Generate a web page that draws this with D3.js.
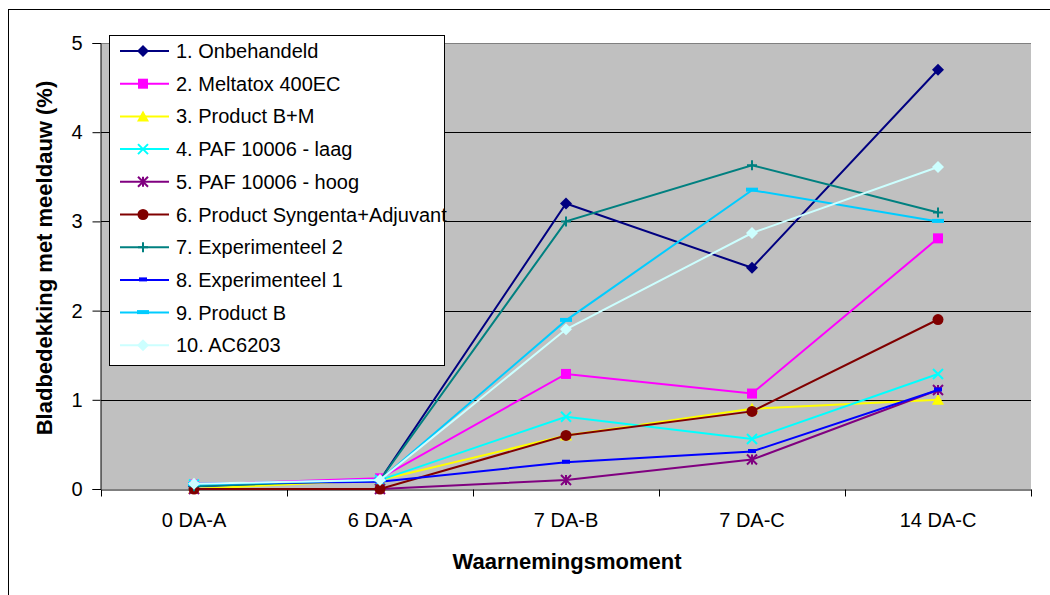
<!DOCTYPE html>
<html>
<head>
<meta charset="utf-8">
<script src="https://cdn.jsdelivr.net/npm/d3@7"></script>
<style>
  html, body { margin: 0; padding: 0; background: #fff; }
  svg { display: block; font-family: "Liberation Sans", Arial, sans-serif; }
</style>
</head>
<body>
<svg id="chart" width="1050" height="595"></svg>
<script>
// Observation moments (x categories)
const categories = ["0 DA-A", "6 DA-A", "7 DA-B", "7 DA-C", "14 DA-C"];

// Leaf coverage with powdery mildew (%) per treatment
const onbehandeld     = [0.03, 0.10, 3.20, 2.48, 4.70];
const meltatox        = [0.05, 0.12, 1.29, 1.07, 2.81];
const productBM       = [0.00, 0.10, 0.60, 0.90, 1.00];
const pafLaag         = [0.05, 0.10, 0.81, 0.56, 1.29];
const pafHoog         = [0.00, 0.00, 0.10, 0.33, 1.11];
const syngenta        = [0.00, 0.00, 0.60, 0.87, 1.90];
const experimenteel2  = [0.03, 0.10, 3.00, 3.63, 3.10];
const experimenteel1  = [0.06, 0.08, 0.30, 0.42, 1.11];
const productB        = [0.05, 0.10, 1.89, 3.35, 3.00];
const ac6203          = [0.06, 0.10, 1.79, 2.87, 3.61];

const seriesNames = [
  "1. Onbehandeld", "2. Meltatox 400EC", "3. Product B+M", "4. PAF 10006 - laag",
  "5. PAF 10006 - hoog", "6. Product Syngenta+Adjuvant", "7. Experimenteel 2",
  "8. Experimenteel 1", "9. Product B", "10. AC6203"
];
const seriesValues = [onbehandeld, meltatox, productBM, pafLaag, pafHoog,
  syngenta, experimenteel2, experimenteel1, productB, ac6203];

const yTicks = [0, 1, 2, 3, 4, 5];

// Styling per series
const colors = ["#000080", "#FF00FF", "#FFFF00", "#00FFFF", "#800080",
  "#800000", "#008080", "#0000FF", "#00CCFF", "#CCFFFF"];
const markers = ["diamond", "square", "triangle", "x", "star",
  "circle", "plus", "dash", "dash", "diamond"];

const FONT = "'Liberation Sans', Arial, sans-serif";
const svg = d3.select("#chart");

// Outer chart frame
svg.append("rect").attr("x", 8.5).attr("y", 9.5).attr("width", 1060).attr("height", 600)
  .attr("fill", "#fff").attr("stroke", "#000").attr("stroke-width", 1);

const plot = { left: 101, right: 1031, top: 43, bottom: 489 };

const x = d3.scaleBand().domain(categories).range([plot.left, plot.right]);
const y = d3.scaleLinear().domain([0, 5]).range([plot.bottom, plot.top]);
const cx = c => x(c) + x.bandwidth() / 2;

// Plot background
svg.append("rect").attr("x", plot.left).attr("y", plot.top)
  .attr("width", plot.right - plot.left).attr("height", plot.bottom - plot.top)
  .attr("fill", "#C0C0C0");

// Horizontal gridlines
svg.append("g").selectAll("line").data(yTicks.filter(t => t > 0)).join("line")
  .attr("x1", plot.left).attr("x2", plot.right)
  .attr("y1", d => Math.round(y(d)) + 0.5).attr("y2", d => Math.round(y(d)) + 0.5)
  .attr("stroke", d => d === 5 ? "#808080" : "#000").attr("stroke-width", 1);

// Y axis
const yAxis = svg.append("g").attr("transform", `translate(${plot.left - 0.5},0)`)
  .call(d3.axisLeft(y).tickValues(yTicks).tickFormat(d3.format("d")).tickSize(8).tickPadding(10));
yAxis.selectAll("text").attr("font-size", 20).attr("fill", "#000").attr("font-family", FONT);
yAxis.select(".domain").attr("stroke", "#000");
yAxis.selectAll(".tick line").attr("stroke", "#000");

// X axis
const xAxis = svg.append("g").attr("transform", `translate(0,${plot.bottom + 0.5})`)
  .call(d3.axisBottom(x).tickSize(0).tickPadding(23));
xAxis.selectAll("text").attr("font-size", 20).attr("fill", "#000").attr("font-family", FONT);
xAxis.select(".domain").attr("stroke", "#000");
// category separator ticks
xAxis.append("g").selectAll("line").data(d3.range(categories.length + 1)).join("line")
  .attr("x1", i => Math.round(plot.left + i * x.bandwidth()) + 0.5)
  .attr("x2", i => Math.round(plot.left + i * x.bandwidth()) + 0.5)
  .attr("y1", 0).attr("y2", 7).attr("stroke", "#000");

// Axis titles
svg.append("text").attr("x", 567).attr("y", 569).attr("text-anchor", "middle")
  .attr("font-size", 22).attr("font-weight", "bold").text("Waarnemingsmoment");
svg.append("text").attr("transform", "translate(52,258) rotate(-90)")
  .attr("text-anchor", "middle").attr("font-size", 22).attr("font-weight", "bold")
  .text("Bladbedekking met meeldauw (%)");

// Marker drawing
function drawMarker(g, type, color, s) {
  const h = s / 2;
  switch (type) {
    case "diamond":
      g.append("path").attr("d", `M0,${-h - 1}L${h + 1},0L0,${h + 1}L${-h - 1},0Z`).attr("fill", color);
      break;
    case "square":
      g.append("rect").attr("x", -h).attr("y", -h).attr("width", s).attr("height", s).attr("fill", color);
      break;
    case "triangle":
      g.append("path").attr("d", `M0,${-h - 1}L${h + 1},${h}L${-h - 1},${h}Z`).attr("fill", color);
      break;
    case "x":
      g.append("path").attr("d", `M${-h},${-h}L${h},${h}M${-h},${h}L${h},${-h}`)
        .attr("stroke", color).attr("stroke-width", 2).attr("fill", "none");
      break;
    case "star":
      g.append("path").attr("d", `M${-h},${-h}L${h},${h}M${-h},${h}L${h},${-h}M0,${-h}L0,${h}`)
        .attr("stroke", color).attr("stroke-width", 2).attr("fill", "none");
      break;
    case "circle":
      g.append("circle").attr("r", h + 0.5).attr("fill", color);
      break;
    case "plus":
      g.append("path").attr("d", `M${-h},0L${h},0M0,${-h}L0,${h}`)
        .attr("stroke", color).attr("stroke-width", 2).attr("fill", "none");
      break;
    case "dash":
      g.append("rect").attr("x", -h).attr("y", -2.5).attr("width", s).attr("height", 4).attr("fill", color);
      break;
  }
}

const line = d3.line().x((d, i) => cx(categories[i])).y(d => y(d));

// Series lines and markers
seriesValues.forEach((vals, si) => {
  const g = svg.append("g");
  g.append("path").datum(vals).attr("d", line).attr("fill", "none")
    .attr("stroke", colors[si]).attr("stroke-width", 2);
  const msize = markers[si] === "dash" ? (si === 7 ? 8 : 12) : 10;
  vals.forEach((v, i) => {
    const mg = g.append("g").attr("transform", `translate(${cx(categories[i])},${y(v)})`);
    drawMarker(mg, markers[si], colors[si], msize);
  });
});

// Legend
const legend = svg.append("g");
legend.append("rect").attr("x", 109.5).attr("y", 35.5).attr("width", 335).attr("height", 330)
  .attr("fill", "#fff").attr("stroke", "#000").attr("stroke-width", 1);
seriesNames.forEach((name, i) => {
  const ly = 51 + i * 32.7;
  const lg = legend.append("g");
  lg.append("line").attr("x1", 120).attr("x2", 169).attr("y1", ly).attr("y2", ly)
    .attr("stroke", colors[i]).attr("stroke-width", 2);
  const mg = lg.append("g").attr("transform", `translate(143,${ly})`);
  const msize = markers[i] === "dash" ? (i === 7 ? 8 : 12) : 10;
  drawMarker(mg, markers[i], colors[i], msize);
  lg.append("text").attr("x", 176).attr("y", ly).attr("dy", "0.35em")
    .attr("font-size", 20).attr("fill", "#000").text(name);
});
</script>
</body>
</html>
